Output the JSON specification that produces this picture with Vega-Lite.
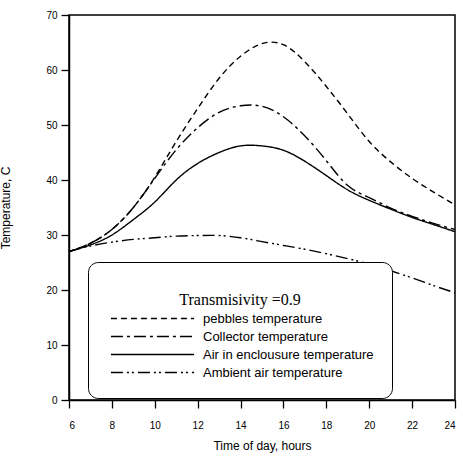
{
  "$schema": "https://vega.github.io/schema/vega-lite/v6.json",
  "width": 386,
  "height": 385,
  "autosize": {"type": "none"},
  "padding": {"left": 69, "top": 15, "right": 8, "bottom": 59},
  "background": "white",
  "config": {
    "view": {"stroke": "black", "strokeWidth": 1.5},
    "axis": {
      "grid": false,
      "domainColor": "black",
      "domainWidth": 1.5,
      "tickColor": "black",
      "tickWidth": 1.3,
      "tickSize": 8,
      "labelFont": "Liberation Sans",
      "labelFontSize": 10,
      "labelColor": "black",
      "titleFont": "Liberation Sans",
      "titleFontSize": 12,
      "titleFontWeight": "normal",
      "titleColor": "black"
    }
  },
  "data": {
    "values": [
      {"t": 6, "series": "pebbles temperature", "temp": 27},
      {"t": 7, "series": "pebbles temperature", "temp": 28.5},
      {"t": 8, "series": "pebbles temperature", "temp": 31},
      {"t": 9, "series": "pebbles temperature", "temp": 35},
      {"t": 10, "series": "pebbles temperature", "temp": 40.5},
      {"t": 11, "series": "pebbles temperature", "temp": 47},
      {"t": 12, "series": "pebbles temperature", "temp": 53},
      {"t": 13, "series": "pebbles temperature", "temp": 58.5},
      {"t": 14, "series": "pebbles temperature", "temp": 62.5},
      {"t": 15, "series": "pebbles temperature", "temp": 64.8},
      {"t": 16, "series": "pebbles temperature", "temp": 64.6},
      {"t": 17, "series": "pebbles temperature", "temp": 61.5},
      {"t": 18, "series": "pebbles temperature", "temp": 57},
      {"t": 19, "series": "pebbles temperature", "temp": 52},
      {"t": 20, "series": "pebbles temperature", "temp": 47},
      {"t": 21, "series": "pebbles temperature", "temp": 43.3},
      {"t": 22, "series": "pebbles temperature", "temp": 40.3},
      {"t": 23, "series": "pebbles temperature", "temp": 37.8},
      {"t": 24, "series": "pebbles temperature", "temp": 35.5},
      {"t": 6, "series": "Collector temperature", "temp": 27},
      {"t": 7, "series": "Collector temperature", "temp": 28.5},
      {"t": 8, "series": "Collector temperature", "temp": 31},
      {"t": 9, "series": "Collector temperature", "temp": 35},
      {"t": 10, "series": "Collector temperature", "temp": 40.3},
      {"t": 11, "series": "Collector temperature", "temp": 45.5},
      {"t": 12, "series": "Collector temperature", "temp": 49.5},
      {"t": 13, "series": "Collector temperature", "temp": 52.3},
      {"t": 14, "series": "Collector temperature", "temp": 53.5},
      {"t": 15, "series": "Collector temperature", "temp": 53.4},
      {"t": 16, "series": "Collector temperature", "temp": 51.5},
      {"t": 17, "series": "Collector temperature", "temp": 48},
      {"t": 18, "series": "Collector temperature", "temp": 43.5},
      {"t": 19, "series": "Collector temperature", "temp": 39},
      {"t": 20, "series": "Collector temperature", "temp": 36.8},
      {"t": 21, "series": "Collector temperature", "temp": 34.9},
      {"t": 22, "series": "Collector temperature", "temp": 33.4},
      {"t": 23, "series": "Collector temperature", "temp": 32.1},
      {"t": 24, "series": "Collector temperature", "temp": 31},
      {"t": 6, "series": "Air in enclousure temperature", "temp": 27},
      {"t": 7, "series": "Air in enclousure temperature", "temp": 28.2},
      {"t": 8, "series": "Air in enclousure temperature", "temp": 30},
      {"t": 9, "series": "Air in enclousure temperature", "temp": 32.8},
      {"t": 10, "series": "Air in enclousure temperature", "temp": 36},
      {"t": 11, "series": "Air in enclousure temperature", "temp": 40},
      {"t": 12, "series": "Air in enclousure temperature", "temp": 43},
      {"t": 13, "series": "Air in enclousure temperature", "temp": 45},
      {"t": 14, "series": "Air in enclousure temperature", "temp": 46.2},
      {"t": 15, "series": "Air in enclousure temperature", "temp": 46.2},
      {"t": 16, "series": "Air in enclousure temperature", "temp": 45.4},
      {"t": 17, "series": "Air in enclousure temperature", "temp": 43.4},
      {"t": 18, "series": "Air in enclousure temperature", "temp": 40.8},
      {"t": 19, "series": "Air in enclousure temperature", "temp": 38.2},
      {"t": 20, "series": "Air in enclousure temperature", "temp": 36.3},
      {"t": 21, "series": "Air in enclousure temperature", "temp": 34.7},
      {"t": 22, "series": "Air in enclousure temperature", "temp": 33.2},
      {"t": 23, "series": "Air in enclousure temperature", "temp": 31.9},
      {"t": 24, "series": "Air in enclousure temperature", "temp": 30.6},
      {"t": 6, "series": "Ambient air temperature", "temp": 27},
      {"t": 7, "series": "Ambient air temperature", "temp": 28},
      {"t": 8, "series": "Ambient air temperature", "temp": 28.7},
      {"t": 9, "series": "Ambient air temperature", "temp": 29.2},
      {"t": 10, "series": "Ambient air temperature", "temp": 29.5},
      {"t": 11, "series": "Ambient air temperature", "temp": 29.8},
      {"t": 12, "series": "Ambient air temperature", "temp": 29.9},
      {"t": 13, "series": "Ambient air temperature", "temp": 29.9},
      {"t": 14, "series": "Ambient air temperature", "temp": 29.5},
      {"t": 15, "series": "Ambient air temperature", "temp": 28.8},
      {"t": 16, "series": "Ambient air temperature", "temp": 28.1},
      {"t": 17, "series": "Ambient air temperature", "temp": 27.4},
      {"t": 18, "series": "Ambient air temperature", "temp": 26.6},
      {"t": 19, "series": "Ambient air temperature", "temp": 25.7},
      {"t": 20, "series": "Ambient air temperature", "temp": 24.7},
      {"t": 21, "series": "Ambient air temperature", "temp": 23.5},
      {"t": 22, "series": "Ambient air temperature", "temp": 22.2},
      {"t": 23, "series": "Ambient air temperature", "temp": 20.8},
      {"t": 24, "series": "Ambient air temperature", "temp": 19.5}
    ]
  },
  "mark": {"type": "line", "color": "black", "strokeWidth": 1.4, "interpolate": "natural"},
  "encoding": {
    "x": {
      "field": "t",
      "type": "quantitative",
      "scale": {"domain": [6, 24], "nice": false},
      "axis": {"title": "Time of day, hours", "values": [6, 8, 10, 12, 14, 16, 18, 20, 22, 24], "labelPadding": 12, "titlePadding": 10}
    },
    "y": {
      "field": "temp",
      "type": "quantitative",
      "scale": {"domain": [0, 70], "nice": false},
      "axis": {"title": "Temperature, C", "values": [0, 10, 20, 30, 40, 50, 60, 70], "labelPadding": 4, "titlePadding": 33}
    },
    "strokeDash": {
      "field": "series",
      "type": "nominal",
      "scale": {
        "domain": ["pebbles temperature", "Collector temperature", "Air in enclousure temperature", "Ambient air temperature"],
        "range": [[6, 4], [12, 4, 3, 4], [1, 0], [12, 4, 2, 3, 2, 4]]
      },
      "legend": {
        "orient": "none",
        "legendX": 19,
        "legendY": 247,
        "title": ["", "Transmisivity =0.9"],
        "titleLineHeight": 12,
        "titleFont": "Liberation Serif",
        "titleFontSize": 16,
        "titleFontWeight": "normal",
        "titleColor": "black",
        "titleAnchor": "middle",
        "titlePadding": 4,
        "labelFont": "Liberation Sans",
        "labelFontSize": 13,
        "labelColor": "black",
        "labelLimit": 300,
        "labelOffset": 84,
        "symbolType": "M-0.3,0H15.7",
        "symbolSize": 108,
        "symbolStrokeWidth": 1.3,
        "symbolStrokeColor": "black",
        "symbolFillColor": "transparent",
        "strokeColor": "black",
        "fillColor": "white",
        "cornerRadius": 10,
        "padding": 18,
        "rowPadding": 4
      }
    }
  }
}
